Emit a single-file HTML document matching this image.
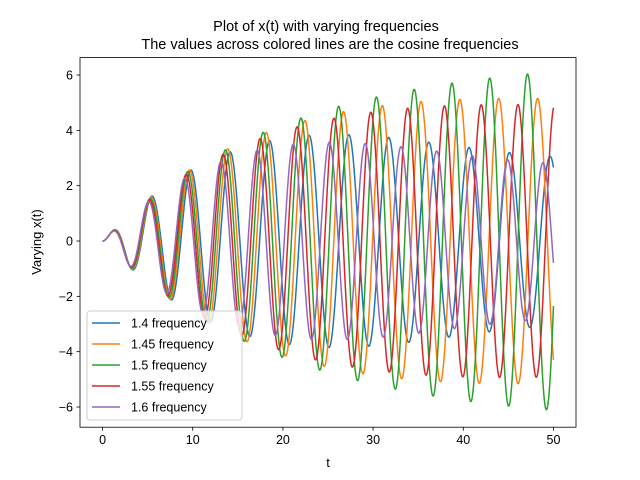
<!DOCTYPE html>
<html><head><meta charset="utf-8"><style>
body{margin:0;background:#fff}
svg{display:block;font-family:"Liberation Sans","DejaVu Sans",sans-serif}
</style></head><body>
<svg id="chart" width="640" height="480" viewBox="0 0 640 480">
<rect width="640" height="480" fill="#fff"/>
<text x="326" y="31" font-size="14.5" text-anchor="middle">Plot of x(t) with varying frequencies</text>
<text x="330" y="49" font-size="14.5" text-anchor="middle">The values across colored lines are the cosine frequencies</text>
<g id="plot"></g>
<text x="328" y="467" font-size="13" text-anchor="middle">t</text>
<text x="0" y="0" font-size="13" text-anchor="middle" transform="translate(41,242) rotate(-90)">Varying x(t)</text>
</svg>
<script>
const frequencies=[1.4,1.45,1.5,1.55,1.6];
const seriesLabels=["1.4 frequency","1.45 frequency","1.5 frequency","1.55 frequency","1.6 frequency"];
const seriesColors=["#1f77b4","#ff7f0e","#2ca02c","#d62728","#9467bd"];
const xTicks=[0,10,20,30,40,50];
const yTicks=[-6,-4,-2,0,2,4,6];
const naturalFreq=[1.5];
const damping=[0.1];
const tRange=[0,50];

const L=80,R=576,T=57.6,B=427.2;
const xmin=-2.5,xmax=52.5,ymin=-6.73,ymax=6.63;
const sx=t=>L+(t-xmin)/(xmax-xmin)*(R-L);
const sy=v=>B-(v-ymin)/(ymax-ymin)*(B-T);
const NS="http://www.w3.org/2000/svg";
const g=document.getElementById('plot');
function mk(tag,attrs,parent){const e=document.createElementNS(NS,tag);for(const k in attrs)e.setAttribute(k,attrs[k]);(parent||g).appendChild(e);return e;}

function simulate(w){
  const w0=naturalFreq[0],c=damping[0],n=2500,h=(tRange[1]-tRange[0])/n;
  let x=0,v=0,t=tRange[0];const pts=[[t,x]];
  const f=(t,x,v)=>Math.cos(w*t)-c*v-w0*w0*x;
  for(let i=0;i<n;i++){
    const k1x=v,k1v=f(t,x,v);
    const k2x=v+h/2*k1v,k2v=f(t+h/2,x+h/2*k1x,v+h/2*k1v);
    const k3x=v+h/2*k2v,k3v=f(t+h/2,x+h/2*k2x,v+h/2*k2v);
    const k4x=v+h*k3v,k4v=f(t+h,x+h*k3x,v+h*k3v);
    x+=h/6*(k1x+2*k2x+2*k3x+k4x);v+=h/6*(k1v+2*k2v+2*k3v+k4v);t+=h;
    pts.push([t,x]);
  }
  return pts;
}

const clip=mk('clipPath',{id:'cp'});mk('rect',{x:L,y:T,width:R-L,height:B-T},clip);
const lines=mk('g',{'clip-path':'url(#cp)'});


frequencies.forEach((w,i)=>{
  const d=simulate(w).map((p,j)=>(j?'L':'M')+sx(p[0]).toFixed(2)+','+sy(p[1]).toFixed(2)).join('');
  const p=mk('path',{d:d,fill:'none',stroke:seriesColors[i],'stroke-width':1.5},lines);
  
  
});

const frame=mk('rect',{x:L,y:T,width:R-L,height:B-T,fill:'none',stroke:'#000','stroke-width':0.8});



xTicks.forEach(t=>{
  const x=sx(t);
  const tk=mk('line',{x1:x,x2:x,y1:B,y2:B+3.5,stroke:'#000','stroke-width':0.8});
  
  
  const lb=mk('text',{x:x,y:B+17,'font-size':12.5,'text-anchor':'middle'});lb.textContent=t;
  
  
});
yTicks.forEach(v=>{
  const y=sy(v);
  const tk=mk('line',{x1:L-3.5,x2:L,y1:y,y2:y,stroke:'#000','stroke-width':0.8});
  
  
  const lb=mk('text',{x:L-7,y:y+4.5,'font-size':12.5,'text-anchor':'end'});lb.textContent=(v<0?'\u2212'+(-v):v);
  
  
});

const leg=mk('g',{});


mk('rect',{x:87,y:311,width:155,height:109,rx:3,fill:'#fff','fill-opacity':0.8,stroke:'#ccc','stroke-width':1},leg);
seriesLabels.forEach((s,i)=>{
  const y=323+i*21;
  const ln=mk('line',{x1:92,x2:120,y1:y,y2:y,stroke:seriesColors[i],'stroke-width':1.5},leg);
  
  
  const tx=mk('text',{x:131,y:y+4.5,'font-size':12.5},leg);tx.textContent=s;
  
  
});
</script>
</body></html>
